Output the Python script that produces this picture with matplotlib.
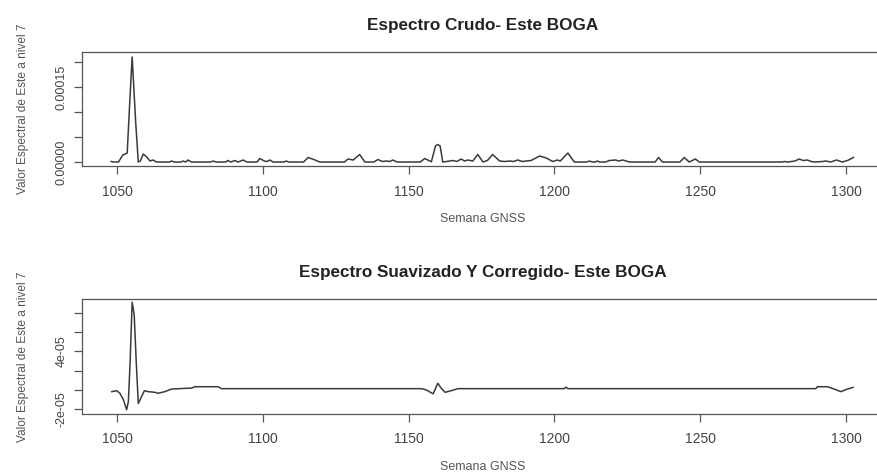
import matplotlib
matplotlib.use("Agg")
import matplotlib.pyplot as plt

plt.rcParams['font.family'] = ['Liberation Sans', 'DejaVu Sans']

# espectro crudo (semana GNSS, valor)
semanas_crudo = [1048, 1049, 1050.5, 1052, 1053.5, 1054.5, 1055.2, 1056.4, 1057.3, 1058,
                 1059, 1060.2, 1061.3, 1062.4, 1063.5, 1068, 1068.7, 1069.5, 1072, 1072.7,
                 1073.5, 1074.4, 1075.5, 1082, 1083, 1084, 1087.3, 1088, 1089, 1090.4,
                 1091.5, 1093.3, 1094.5, 1098, 1099, 1100.5, 1101.5, 1102.4, 1103.5, 1107.3,
                 1108, 1108.8, 1114, 1115.5, 1117.5, 1119.5, 1128, 1129.2, 1131, 1133.2,
                 1135, 1138, 1139.5, 1141, 1142.4, 1143.5, 1144.6, 1146, 1154, 1155.5,
                 1157.8, 1159.2, 1160, 1160.8, 1161.7, 1163, 1165.2, 1166.5, 1168, 1169.2,
                 1170.3, 1172, 1173.7, 1175.5, 1177, 1178.8, 1181.2, 1183, 1184.6, 1186,
                 1187.4, 1189, 1190.3, 1192, 1194.9, 1197.2, 1198.5, 1199.4, 1201, 1202,
                 1204.6, 1206.8, 1211, 1212, 1213, 1214, 1214.7, 1215.5, 1217.5, 1218.8,
                 1221, 1222, 1223.4, 1225.7, 1234.5, 1235.7, 1237, 1243, 1244.5, 1246.2,
                 1248.3, 1249.7, 1278, 1278.8, 1280, 1282.5, 1283.9, 1285.3, 1286.7, 1288,
                 1289, 1292, 1293, 1294.7, 1296.7, 1298.7, 1300.5, 1302.5]
valores_crudo = [1, 0, 0, 14, 18, 134, 210, 80, 0, 2,
                 16, 10, 2, 4, 0, 0, 2, 0, 0, 2,
                 0, 4, 0, 0, 2, 0, 0, 3, 0, 3,
                 0, 4, 0, 0, 7, 2, 1, 4, 0, 0,
                 2, 0, 0, 9, 5, 0, 0, 6, 4, 15,
                 0, 0, 5, 1, 2, 1, 4, 0, 0, 7,
                 0.5, 32, 35, 32, 0, 1, 3, 1, 6, 2,
                 4, 2, 15, 0, 3, 15, 2, 1, 2, 1,
                 4, 1, 2, 3, 12, 8, 4, 1, 4, 2,
                 18, 0, 0, 2, 0, 0, 2, 0, 0, 3,
                 4, 2, 4, 0, 0, 9, 0, 0, 9, 0,
                 6, 0, 0, 1, 0, 2, 6, 3, 4, 1,
                 0, 1, 2, 0, 4, 0, 3, 9]
valores_crudo = [v * 1e-6 for v in valores_crudo]

# espectro suavizado y corregido
semanas_suav = [1048.2, 1049.9, 1051, 1052.2, 1053.3, 1053.9, 1054.5, 1055.2, 1055.9, 1056.6,
                1057.3, 1058.4, 1059.4, 1060.7, 1063, 1064.1, 1066.4, 1068.7, 1075.6, 1076.7,
                1084.7, 1085.8, 1154.4, 1156.1, 1158.4, 1160, 1161.2, 1162.5, 1164.6, 1166.9,
                1203.4, 1204, 1204.6, 1289.6, 1290.2, 1293.6, 1295.9, 1298.2, 1300.5, 1302.4]
valores_suav = [-1.7, -0.7, -3.4, -10, -20.5, -12, 29, 91, 78, 29,
                -14, -7, -0.7, -1.7, -2.4, -3.4, -1.7, 1, 2, 3.4,
                3.4, 1.4, 1.4, 0, -4, 7, 1.7, -2.4, -0.7, 1.4,
                1.4, 3, 1.4, 1.4, 3.4, 3.4, 1, -1.7, 1, 2.7]
valores_suav = [v * 1e-6 for v in valores_suav]

xticks = [1050, 1100, 1150, 1200, 1250, 1300]
yticks_crudo = [0, 5e-5, 1e-4, 1.5e-4, 2e-4]
ylabels_crudo = ["0.00000", "", "", "0.00015", ""]
yticks_suav = [-2e-5, 0, 2e-5, 4e-5, 6e-5, 8e-5]
ylabels_suav = ["-2e-05", "", "", "4e-05", "", ""]

fig = plt.figure(figsize=(8.77, 4.75), dpi=100)
ax1 = fig.add_axes([0.0935, 0.6505, 0.9145, 0.24])
ax2 = fig.add_axes([0.0935, 0.129, 0.9145, 0.242])

gris = "#3a3a3a"
paneles = [
    (ax1, semanas_crudo, valores_crudo, "Espectro Crudo- Este BOGA",
     (-0.8e-5, 2.2e-4), yticks_crudo, ylabels_crudo),
    (ax2, semanas_suav, valores_suav, "Espectro Suavizado Y Corregido- Este BOGA",
     (-2.46e-5, 9.46e-5), yticks_suav, ylabels_suav),
]

for ax, x, y, titulo, ylim, yt, yl in paneles:
    ax.plot(x, y, color=gris, linewidth=1.1)
    ax.set_xlim(1038, 1313)
    ax.set_ylim(*ylim)
    ax.set_xticks(xticks)
    ax.set_yticks(yt)
    ax.set_yticklabels(yl, rotation=90, va="center")
    ax.tick_params(axis="x", direction="out", length=5.5, width=0.9, colors="#555555",
                   labelcolor="#444444", labelsize=10, pad=8)
    ax.tick_params(axis="y", direction="out", length=5.5, width=0.9, colors="#555555",
                   labelcolor="#444444", labelsize=9, pad=5)
    for s in ax.spines.values():
        s.set_color("#555555")
        s.set_linewidth(0.9)
    ax.set_title(titulo, fontsize=12.3, fontweight="bold", color="#222222", pad=16)
    ax.set_xlabel("Semana GNSS", fontsize=9, color="#555555")
    ax.set_ylabel("Valor Espectral de Este a nivel 7", fontsize=8.6, color="#555555")
    ax.xaxis.set_label_coords(0.5, -0.41)
    ax.yaxis.set_label_coords(-0.066, 0.5)

fig.savefig("out.png", dpi=100)
